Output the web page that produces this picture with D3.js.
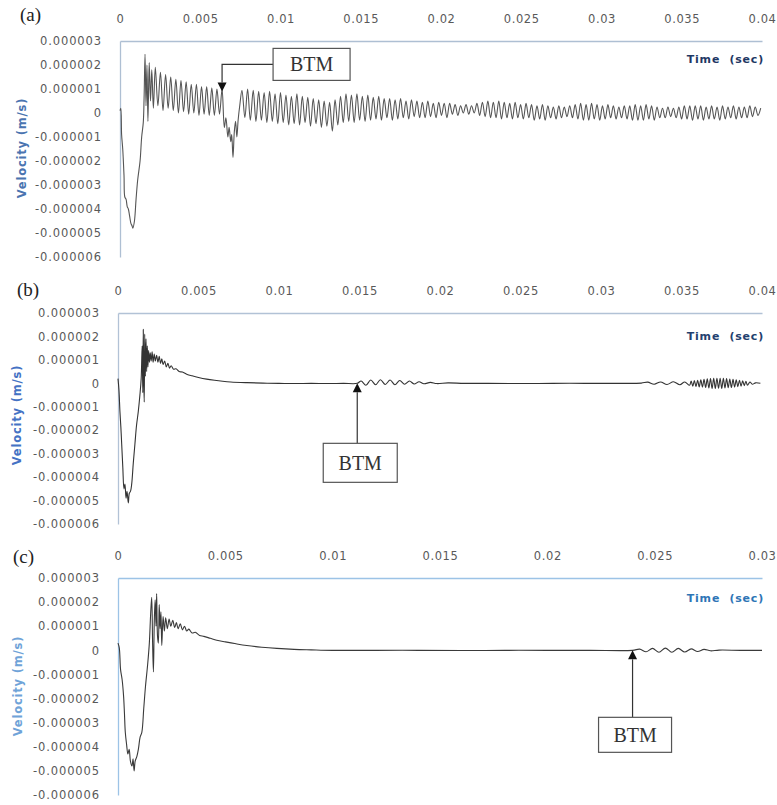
<!DOCTYPE html>
<html>
<head>
<meta charset="utf-8">
<script src="https://cdn.jsdelivr.net/npm/d3@7"></script>
<style>
body { margin: 0; background: #fff; }
svg text { font-family: "DejaVu Sans", sans-serif; }
</style>
</head>
<body>
<svg id="chart" width="777" height="805"></svg>
<script>
// time in ms, velocity in micro m/s (1e-6)
var waveA = [
  [0,0.1],[0.05,0.2],[0.1,-0.9],[0.17,-1.5],[0.25,-2.6],[0.3,-3.5],[0.38,-3.6],[0.45,-3.9],[0.52,-4.0],
  [0.6,-4.3],[0.68,-4.6],[0.75,-4.7],[0.8,-4.8],[0.9,-4.5],[1.0,-3.6],[1.1,-2.8],[1.25,-2.0],[1.35,-1.0],
  [1.45,-0.4],[1.5,0.6],[1.56,2.45],[1.62,0.3],[1.68,2.0],[1.74,-0.35],[1.82,2.1],[1.9,0.5],[1.98,1.8],
  [2.08,0.2],[2.2,1.9],[2.36,0.3],[2.52,1.7],[2.68,0.1],[2.84,1.6],[3.0,0.2],[3.16,1.5],[3.32,0.1],
  [3.48,1.4],[3.64,0.0],[3.8,1.35],[3.96,0.05],[4.12,1.3],[4.28,-0.05],[4.44,1.2],[4.6,0.0],[4.76,1.2],
  [4.92,-0.1],[5.08,1.1],[5.24,-0.05],[5.4,1.1],[5.56,-0.1],[5.72,1.05],[5.88,-0.1],[6.04,1.0],[6.2,-0.05],
  [6.36,1.0],[6.5,-0.6],[6.6,-0.2],[6.72,-1.0],[6.8,-0.6],[6.9,-1.2],[6.96,-0.9],[7.04,-1.85],[7.12,-0.8],
  [7.2,-0.35],[7.28,-1.0],[7.36,-0.3],[7.46,0.3],[7.6,0.95],[7.78,-0.2],[7.95,1.0],[8.12,-0.3],[8.3,0.95],
  [8.47,-0.35],[8.64,0.9],[8.81,-0.3],[8.98,0.85],[9.15,-0.4],[9.32,0.9],[9.49,-0.35],[9.66,0.8],[9.83,-0.45],
  [10.0,0.85],[10.17,-0.4],[10.34,0.75],[10.51,-0.5],[10.68,0.7],[10.85,-0.45],[11.02,0.8],[11.19,-0.5],
  [11.36,0.7],[11.53,-0.4],[11.7,0.65],[11.87,-0.55],[12.04,0.6],[12.21,-0.45],[12.38,0.55],[12.55,-0.6],
  [12.72,0.5],[12.89,-0.55],[13.06,0.45],[13.23,-0.75],[13.4,0.55],[13.57,-0.5],[13.74,0.7],[13.91,-0.4],
  [14.08,0.8],[14.25,-0.35],[14.42,0.75],[14.59,-0.4],[14.76,0.8],[14.93,-0.3],[15.1,0.7],[15.27,-0.35],
  [15.44,0.75],[15.61,-0.3],[15.78,0.65],[15.95,-0.25],[16.12,0.7],[16.29,-0.3],[16.46,0.6],[16.63,-0.2],
  [16.8,0.6],[16.97,-0.3],[17.14,0.55],[17.31,-0.25],[17.48,0.6],[17.65,-0.2],[17.82,0.5],[17.99,-0.25],
  [18.16,0.55],[18.33,-0.15],[18.5,0.5],[18.67,-0.2],[18.84,0.45],[19.01,-0.2],[19.18,0.5],[19.35,-0.15],
  [19.52,0.4],[19.69,-0.2],[19.86,0.45],[20.03,-0.1],[20.2,0.4],[20.37,-0.2],[20.54,0.4],[20.71,-0.05],
  [20.88,0.35],[21.05,-0.1],[21.22,0.3],[21.39,0.0],[21.56,0.35],[21.73,-0.05],[21.9,0.3],[22.07,0.0],
  [22.24,0.4],[22.41,-0.1],[22.58,0.45],[22.75,-0.15],[22.92,0.5],[23.09,-0.2],[23.26,0.45],[23.43,-0.2],
  [23.6,0.5],[23.77,-0.25],[23.94,0.45],[24.11,-0.2],[24.28,0.4],[24.45,-0.25],[24.62,0.45],[24.79,-0.2],
  [24.96,0.35],[25.13,-0.25],[25.3,0.4],[25.47,-0.2],[25.64,0.35],[25.81,-0.3],[25.98,0.3],[26.15,-0.25],
  [26.32,0.35],[26.49,-0.3],[26.66,0.3],[26.83,-0.2],[27.0,0.25],[27.17,-0.25],[27.34,0.3],[27.51,-0.2],
  [27.68,0.25],[27.85,-0.15],[28.02,0.3],[28.19,-0.2],[28.36,0.35],[28.53,-0.25],[28.7,0.4],[28.87,-0.3],
  [29.04,0.35],[29.21,-0.3],[29.38,0.4],[29.55,-0.25],[29.72,0.35],[29.89,-0.3],[30.06,0.3],[30.23,-0.25],
  [30.4,0.35],[30.57,-0.2],[30.74,0.3],[30.91,-0.25],[31.08,0.25],[31.25,-0.2],[31.42,0.3],[31.59,-0.25],
  [31.76,0.3],[31.93,-0.3],[32.1,0.35],[32.27,-0.3],[32.44,0.3],[32.61,-0.3],[32.78,0.35],[32.95,-0.25],
  [33.12,0.3],[33.29,-0.3],[33.46,0.25],[33.63,-0.2],[33.8,0.2],[33.97,-0.2],[34.14,0.25],[34.31,-0.15],
  [34.48,0.2],[34.65,-0.2],[34.82,0.25],[34.99,-0.25],[35.16,0.3],[35.33,-0.25],[35.5,0.3],[35.67,-0.3],
  [35.84,0.3],[36.01,-0.25],[36.18,0.3],[36.35,-0.3],[36.52,0.25],[36.69,-0.25],[36.86,0.3],[37.03,-0.25],
  [37.2,0.25],[37.37,-0.3],[37.54,0.3],[37.71,-0.25],[37.88,0.25],[38.05,-0.2],[38.22,0.3],[38.39,-0.25],
  [38.56,0.25],[38.73,-0.2],[38.9,0.25],[39.07,-0.2],[39.24,0.3],[39.41,-0.15],[39.58,0.25],[39.75,-0.1],
  [39.92,0.2]
];

var waveB = [
  [0,0.2],[0.06,-0.3],[0.12,-1.2],[0.18,-1.9],[0.23,-2.6],[0.3,-3.6],[0.37,-4.5],[0.43,-4.3],[0.5,-4.9],
  [0.56,-4.6],[0.64,-5.1],[0.7,-4.7],[0.78,-4.6],[0.85,-4.3],[0.95,-3.4],[1.05,-2.6],[1.15,-1.8],[1.26,-1.2],
  [1.36,-0.5],[1.44,0.2],[1.5,1.6],[1.54,-0.4],[1.57,2.3],[1.6,0.1],[1.63,-0.8],[1.66,2.1],[1.7,0.3],
  [1.74,1.9],[1.78,0.5],[1.82,1.6],[1.86,0.7],[1.9,1.4],[1.95,0.9],[2.0,1.3],[2.06,0.95],[2.12,1.35],
  [2.18,0.9],[2.25,1.25],[2.32,0.95],[2.4,1.2],[2.48,0.9],[2.56,1.15],[2.64,0.85],[2.72,1.05],[2.8,0.8],
  [2.9,0.95],[3.0,0.7],[3.1,0.85],[3.2,0.65],[3.3,0.75],[3.45,0.6],[3.6,0.62],[3.8,0.5],[4.0,0.48],
  [4.3,0.38],[4.6,0.32],[5.0,0.25],[5.5,0.18],[6.0,0.13],[6.5,0.09],[7.0,0.06],[8.0,0.03],[9.0,0.01],
  [10.0,0.0],[11.0,-0.01],[12.0,0.0],[13.0,-0.01],[14.0,0.0],[14.86,0.0],[15.1,0.1],[15.4,-0.08],
  [15.7,0.14],[16.0,-0.06],[16.3,0.15],[16.6,-0.05],[16.9,0.14],[17.2,-0.06],[17.5,0.12],[17.8,-0.04],
  [18.1,0.1],[18.4,-0.03],[18.7,0.07],[19.0,-0.02],[19.4,0.04],[19.8,-0.01],[20.5,0.02],[21.5,0.0],
  [23.0,0.0],[25.0,-0.01],[27.0,0.0],[29.0,0.0],[31.0,0.0],[32.5,0.01],[32.9,0.05],[33.3,-0.04],
  [33.7,0.06],[34.1,-0.05],[34.5,0.07],[34.9,-0.06],[35.2,0.06],[35.5,-0.08],[35.6,0.1],[35.7,-0.12],
  [35.8,0.12],[35.9,-0.14],[36.0,0.13],[36.1,-0.15],[36.2,0.15],[36.3,-0.16],[36.4,0.17],[36.5,-0.18],
  [36.6,0.19],[36.7,-0.2],[36.8,0.2],[36.9,-0.22],[37.0,0.21],[37.1,-0.22],[37.2,0.22],[37.3,-0.21],
  [37.4,0.22],[37.5,-0.22],[37.6,0.21],[37.7,-0.2],[37.8,0.2],[37.9,-0.19],[38.0,0.18],[38.1,-0.18],
  [38.2,0.17],[38.3,-0.16],[38.4,0.15],[38.5,-0.14],[38.6,0.13],[38.7,-0.12],[38.8,0.11],[38.9,-0.1],
  [39.0,0.09],[39.1,-0.08],[39.25,0.06],[39.4,-0.04],[39.6,0.02],[39.9,0.0]
];

var waveC = [
  [0,0.3],[0.06,0.1],[0.12,-0.8],[0.19,-1.2],[0.26,-1.9],[0.3,-2.6],[0.34,-3.4],[0.4,-3.9],[0.46,-4.3],
  [0.52,-4.1],[0.58,-4.6],[0.65,-4.8],[0.7,-4.5],[0.75,-5.0],[0.8,-4.6],[0.88,-4.4],[0.95,-4.1],[1.03,-3.6],
  [1.11,-3.4],[1.2,-2.4],[1.28,-1.5],[1.38,-0.6],[1.46,0.3],[1.52,1.5],[1.57,2.2],[1.61,0.4],[1.65,-0.9],
  [1.69,1.2],[1.73,2.1],[1.77,1.0],[1.8,2.35],[1.84,0.6],[1.88,0.3],[1.92,1.9],[1.96,0.9],[2.0,1.6],
  [2.04,0.2],[2.1,1.4],[2.16,0.8],[2.22,1.35],[2.3,0.9],[2.38,1.3],[2.46,1.0],[2.55,1.25],[2.64,0.95],
  [2.72,1.15],[2.8,0.9],[2.9,1.1],[3.0,0.85],[3.1,1.0],[3.2,0.8],[3.3,0.88],[3.45,0.72],[3.6,0.75],
  [3.8,0.62],[4.0,0.58],[4.3,0.5],[4.6,0.42],[5.0,0.35],[5.5,0.27],[6.0,0.2],[6.7,0.13],[7.4,0.08],
  [8.2,0.04],[9.0,0.02],[10.0,0.0],[12.0,0.0],[14.0,0.0],[16.0,-0.01],[18.0,0.0],[20.0,0.0],[22.0,0.0],
  [23.97,0.0],[24.3,0.05],[24.6,-0.06],[24.9,0.08],[25.2,-0.08],[25.5,0.09],[25.8,-0.08],[26.1,0.08],
  [26.4,-0.07],[26.7,0.06],[27.0,-0.05],[27.3,0.04],[27.6,-0.02],[28.0,0.01],[29.0,0.0],[30.0,0.0]
];

var xTicks40 = [0, 5, 10, 15, 20, 25, 30, 35, 40];
var xTicks30 = [0, 5, 10, 15, 20, 25, 30];
var yTicks = [3, 2, 1, 0, -1, -2, -3, -4, -5, -6];

var btmLabel = "BTM";
var timeTitle = "Time  (sec)";
var velTitle = "Velocity (m/s)";

var panels = [
  { label: "(a)", data: waveA, xMax: 40, xTicks: xTicks40,
    x0: 120, x1: 762, yTop: 41, yBot: 257, labelX: 20, labelY: 21,
    axisColor: "#aebfd3", timeColor: "#1f3864", velColor: "#4a74b0", lineColor: "#555555",
    velX: 26, velY: 148, timeY: 63,
    btm: { t: 6.36, v: 0.9, kind: "elbow", dx: 51, dy: -43, w: 77, h: 32 } },
  { label: "(b)", data: waveB, xMax: 40, xTicks: xTicks40,
    x0: 118, x1: 762, yTop: 313, yBot: 524, labelX: 17, labelY: 296,
    axisColor: "#b2c2d6", timeColor: "#23406e", velColor: "#4472c4", lineColor: "#333333",
    velX: 21, velY: 415, timeY: 340,
    btm: { t: 14.86, v: 0, kind: "up", dx: -34, dy: 60, w: 74, h: 39 } },
  { label: "(c)", data: waveC, xMax: 30, xTicks: xTicks30,
    x0: 118, x1: 762, yTop: 578, yBot: 795, labelX: 13, labelY: 563,
    axisColor: "#9cc3e6", timeColor: "#2e75b6", velColor: "#6fa3d8", lineColor: "#3a3a3a",
    velX: 22, velY: 686, timeY: 602,
    btm: { t: 23.97, v: 0, kind: "up", dx: -34, dy: 67, w: 73, h: 35 } }
];

var svg = d3.select("#chart");

function fmtTime(d) {
    return d === 0 ? "0" : String(+(d / 1000).toFixed(3));
}
function fmtVel(d) {
    if (d === 0) return "0";
    return (d < 0 ? "-" : "") + Math.abs(d * 1e-6).toFixed(6);
}

function drawPanel(p) {
    var x = d3.scaleLinear().domain([0, p.xMax]).range([p.x0, p.x1]);
    var y = d3.scaleLinear().domain([-6, 3]).range([p.yBot, p.yTop]);
    var g = svg.append("g");

    // top x axis (crosses at max value)
    var xg = g.append("g")
        .attr("transform", "translate(0," + y(3) + ")")
        .call(d3.axisTop(x).tickValues(p.xTicks).tickSize(0).tickPadding(18).tickFormat(fmtTime));
    xg.select(".domain").attr("stroke", p.axisColor).attr("stroke-width", 1.3);
    xg.selectAll(".tick text").style("letter-spacing", "0.6px");

    var yg = g.append("g")
        .attr("transform", "translate(" + x(0) + ",0)")
        .call(d3.axisLeft(y).tickValues(yTicks).tickSize(0).tickPadding(18).tickFormat(fmtVel));
    yg.select(".domain").attr("stroke", p.axisColor).attr("stroke-width", 1.3);
    yg.selectAll(".tick text").style("letter-spacing", "0.9px");

    g.selectAll(".tick text")
        .attr("fill", "#595959")
        .style("font-size", "11.5px")
        .style("font-family", "'DejaVu Sans', sans-serif");

    // waveform
    var line = d3.line().x(d => x(d[0])).y(d => y(d[1])).curve(d3.curveCatmullRom.alpha(0.5));
    g.append("path")
        .datum(p.data)
        .attr("d", line)
        .attr("fill", "none")
        .attr("stroke", p.lineColor)
        .attr("stroke-width", 1.1)
        .attr("stroke-linejoin", "round");

    // titles
    g.append("text")
        .attr("x", p.x1 + 2).attr("y", p.timeY)
        .attr("text-anchor", "end")
        .attr("fill", p.timeColor)
        .style("font-size", "11px").style("font-weight", "bold").style("letter-spacing", "0.8px")
        .style("white-space", "pre")
        .text(timeTitle);
    g.append("text")
        .attr("transform", "translate(" + p.velX + "," + p.velY + ") rotate(-90)")
        .attr("text-anchor", "middle")
        .attr("fill", p.velColor)
        .style("font-size", "11.5px").style("font-weight", "bold").style("letter-spacing", "0.8px")
        .text(velTitle);
    g.append("text")
        .attr("x", p.labelX).attr("y", p.labelY)
        .attr("fill", "#222")
        .style("font-family", "'Liberation Serif', serif").style("font-size", "19px")
        .text(p.label);

    // BTM annotation
    var b = p.btm;
    var tx = x(b.t), ty = y(b.v);
    var bx = tx + b.dx, by = ty + b.dy;
    var a = g.append("g");
    if (b.kind === "elbow") {
        var ly = by + b.h / 2;
        a.append("path")
            .attr("d", "M" + bx + "," + ly + "H" + tx + "V" + (ty - 9))
            .attr("fill", "none").attr("stroke", "#333").attr("stroke-width", 1.2);
        a.append("path")
            .attr("d", "M" + (tx - 4.5) + "," + (ty - 9) + "L" + (tx + 4.5) + "," + (ty - 9) + "L" + tx + "," + ty + "Z")
            .attr("fill", "#111");
    } else {
        a.append("line")
            .attr("x1", tx).attr("x2", tx).attr("y1", by).attr("y2", ty + 9)
            .attr("stroke", "#333").attr("stroke-width", 1.2);
        a.append("path")
            .attr("d", "M" + (tx - 4.5) + "," + (ty + 9) + "L" + (tx + 4.5) + "," + (ty + 9) + "L" + tx + "," + ty + "Z")
            .attr("fill", "#111");
    }
    a.append("rect")
        .attr("x", bx).attr("y", by).attr("width", b.w).attr("height", b.h)
        .attr("fill", "#fff").attr("stroke", "#555").attr("stroke-width", 1.2);
    a.append("text")
        .attr("x", bx + b.w / 2).attr("y", by + b.h / 2 + 7)
        .attr("text-anchor", "middle")
        .attr("fill", "#333")
        .style("font-family", "'Liberation Serif', serif").style("font-size", "20px")
        .text(btmLabel);
}

panels.forEach(drawPanel);
</script>
</body>
</html>
